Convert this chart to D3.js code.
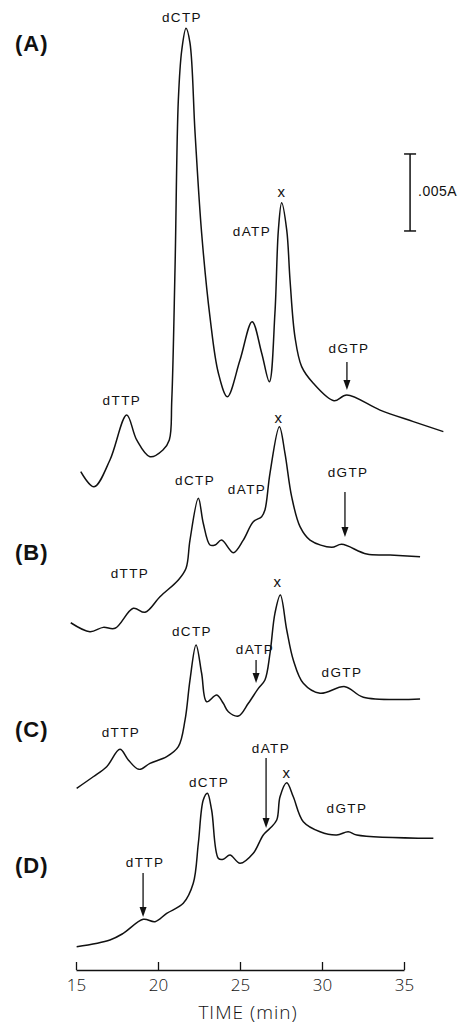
<!DOCTYPE html>
<html>
<head>
<meta charset="utf-8">
<script src="https://cdn.jsdelivr.net/npm/d3@7"></script>
<style>
  body { margin: 0; background: #fff; }
  svg { display: block; }
  .lbl { font-family: "Liberation Sans", Arial, sans-serif; font-size: 13.5px; letter-spacing: 1.4px; fill: #111; }
  .panel { font-family: "Liberation Sans", Arial, sans-serif; font-size: 22px; font-weight: bold; letter-spacing: 1px; fill: #111; }
  .tick text { font-family: "Open Sans", "DejaVu Sans", sans-serif; font-weight: 300; font-size: 17px; fill: #111; }
</style>
</head>
<body>
<svg width="465" height="1025"></svg>
<script>
let width = 465, height = 1025

// time (min) and absorbance (mA, relative to each trace's own baseline)
const traceA = [[15.29,1.06],[16.10,0.08],[17.07,1.82],[18.09,4.74],[18.70,3.12],[19.51,2.03],[20.30,2.47],[20.69,3.12],[20.84,5.71],[21.04,14.35],[21.24,25.19],[21.45,28.44],[21.71,29.85],[21.95,28.90],[22.26,23.05],[22.66,16.56],[23.17,11.10],[23.68,7.47],[24.23,5.93],[25.00,8.31],[25.74,10.80],[26.32,8.77],[26.79,6.90],[27.13,11.36],[27.34,16.75],[27.54,18.53],[27.85,16.75],[28.05,13.51],[28.35,9.82],[28.76,7.88],[29.47,6.80],[30.73,5.67],[31.51,6.04],[33.54,5.06],[35.57,4.31],[37.40,3.66]]
const traceB = [[14.68,1.25],[15.85,0.67],[16.66,0.95],[17.38,0.89],[18.49,2.19],[19.21,1.93],[20.12,2.94],[21.24,4.03],[21.71,4.79],[21.95,6.62],[22.46,9.33],[22.76,7.71],[23.17,6.30],[23.48,6.30],[23.88,6.62],[24.59,5.80],[25.20,6.62],[25.81,7.81],[26.32,8.14],[26.52,8.57],[26.83,10.97],[27.40,13.98],[27.74,12.27],[28.15,9.44],[28.66,7.49],[29.27,6.62],[30.59,6.15],[31.20,6.34],[32.73,5.71],[34.15,5.65],[35.98,5.54]]
const traceC = [[15.04,0.50],[16.05,1.25],[16.87,1.90],[17.68,3.03],[18.19,2.34],[18.84,1.73],[19.51,2.12],[20.53,2.55],[21.24,3.20],[21.65,4.94],[21.95,7.53],[22.32,9.81],[22.66,7.97],[22.97,6.12],[23.58,6.56],[23.98,6.02],[24.29,5.47],[24.90,5.19],[25.51,6.02],[26.12,6.99],[26.52,7.53],[26.83,9.27],[27.13,11.86],[27.46,13.05],[27.85,10.78],[28.25,8.83],[28.86,7.32],[29.88,6.67],[31.40,7.10],[32.52,6.41],[35.98,6.30]]
const traceD = [[15.04,0.21],[17.07,0.65],[17.88,1.08],[19.10,1.99],[19.82,1.84],[20.53,2.38],[21.54,3.03],[22.15,4.33],[22.46,6.93],[22.76,9.74],[23.01,10.18],[23.27,9.09],[23.68,5.95],[23.98,5.89],[24.39,6.17],[25.00,5.63],[25.81,6.28],[26.42,7.47],[26.83,7.90],[27.24,8.44],[27.44,9.95],[27.85,10.86],[28.25,9.95],[28.86,8.33],[29.88,7.68],[30.90,7.47],[31.60,7.68],[32.12,7.47],[36.79,7.25]]

const traces = [traceA, traceB, traceC, traceD]
const panelNames = ["(A)", "(B)", "(C)", "(D)"]
const offsets = [30, 20, 10, 0]   // mA baseline of each trace in the stack
const panelLabelV = [58.4, 25.3, 13.8, 5.0]  // mA (stack units) of panel labels

// peak labels: [trace index, text, time, mA]
const labelsA = [[0,"dCTP",21.46,30.26],[0,"dTTP",17.80,5.39],[0,"dATP",25.73,16.36],[0,"x",27.56,18.90],[0,"dGTP",31.65,8.77]]
const labelsB = [[1,"x",27.38,14.22],[1,"dCTP",22.26,10.19],[1,"dATP",25.43,9.61],[1,"dGTP",31.59,10.71],[1,"dTTP",18.29,4.16]]
const labelsC = [[2,"x",27.32,13.57],[2,"dCTP",22.07,10.39],[2,"dATP",25.91,9.22],[2,"dGTP",31.22,7.73],[2,"dTTP",17.74,3.83]]
const labelsD = [[3,"dATP",26.89,12.79],[3,"x",27.87,11.17],[3,"dCTP",23.11,10.58],[3,"dGTP",31.52,8.90],[3,"dTTP",19.21,5.39]]
// arrows: [trace index, time, mA from, mA to]
const arrows = [[0,31.52,8.18,6.36],[1,31.40,9.74,6.82],[2,25.98,8.83,7.34],[3,26.59,12.47,7.92],[3,19.09,5.0,2.14]]
// scale bar: 0.005 A on trace A
const scaleBar = { t: 35.37, v0: 16.69, v1: 21.69, text: ".005A" }
const xTicks = [15, 20, 25, 30, 35]

const svg = d3.select("svg")

const xScale = d3.scaleLinear().domain([15, 35]).range([76, 404])
const yScale = d3.scaleLinear().domain([0, 60]).range([950, 26])

const line = off => d3.line()
  .x(d => xScale(d[0]))
  .y(d => yScale(d[1] + off))
  .curve(d3.curveCatmullRom.alpha(0.5))

traces.forEach((tr, i) => {
  svg.append("path")
    .datum(tr)
    .attr("d", line(offsets[i]))
    .attr("fill", "none")
    .attr("stroke", "#111")
    .attr("stroke-width", 1.5)
    .attr("stroke-linejoin", "round")
})

panelNames.forEach((p, i) => {
  svg.append("text").attr("class", "panel")
    .attr("x", 15).attr("y", yScale(panelLabelV[i]))
    .text(p)
})

const allLabels = labelsA.concat(labelsB, labelsC, labelsD)
svg.selectAll(".lbl").data(allLabels).join("text")
  .attr("class", "lbl")
  .attr("x", d => xScale(d[2]))
  .attr("y", d => yScale(d[3] + offsets[d[0]]))
  .attr("text-anchor", "middle")
  .style("font-size", d => d[1] == "x" ? "15px" : null)
  .text(d => d[1])

arrows.forEach(a => {
  let x = xScale(a[1]), y0 = yScale(a[2] + offsets[a[0]]), y1 = yScale(a[3] + offsets[a[0]])
  svg.append("line").attr("x1", x).attr("x2", x).attr("y1", y0).attr("y2", y1 - 6)
    .attr("stroke", "#111").attr("stroke-width", 1.3)
  svg.append("path")
    .attr("d", `M${x - 3.5},${y1 - 10} L${x + 3.5},${y1 - 10} L${x},${y1} Z`)
    .attr("fill", "#111")
})

// scale bar
let sbx = xScale(scaleBar.t), sb0 = yScale(scaleBar.v0 + offsets[0]), sb1 = yScale(scaleBar.v1 + offsets[0])
svg.append("line").attr("x1", sbx).attr("x2", sbx).attr("y1", sb0).attr("y2", sb1).attr("stroke", "#111").attr("stroke-width", 1.5)
;[sb0, sb1].forEach(y => svg.append("line").attr("x1", sbx - 6).attr("x2", sbx + 6).attr("y1", y).attr("y2", y).attr("stroke", "#111").attr("stroke-width", 1.5))
svg.append("text").attr("class", "lbl")
  .attr("x", sbx + 8).attr("y", (sb0 + sb1) / 2 + 4)
  .style("font-size", "14px").style("letter-spacing", "0.5px")
  .text(scaleBar.text)

// time axis
const xAxis = d3.axisBottom(xScale).tickValues(xTicks).tickSizeInner(-8).tickSizeOuter(0).tickPadding(9)
const gx = svg.append("g").attr("class", "axis").attr("transform", "translate(0,970)").call(xAxis)
gx.select(".domain").attr("stroke", "#111").attr("stroke-width", 1.5)
gx.selectAll(".tick line").attr("stroke", "#111").attr("stroke-width", 1.3)

svg.append("text")
  .attr("x", 248).attr("y", 1019)
  .attr("text-anchor", "middle")
  .style("font-family", "'Open Sans', 'DejaVu Sans', sans-serif")
  .style("font-weight", "300").style("font-size", "19px").style("letter-spacing", "1px")
  .attr("fill", "#111")
  .text("TIME (min)")
</script>
</body>
</html>
